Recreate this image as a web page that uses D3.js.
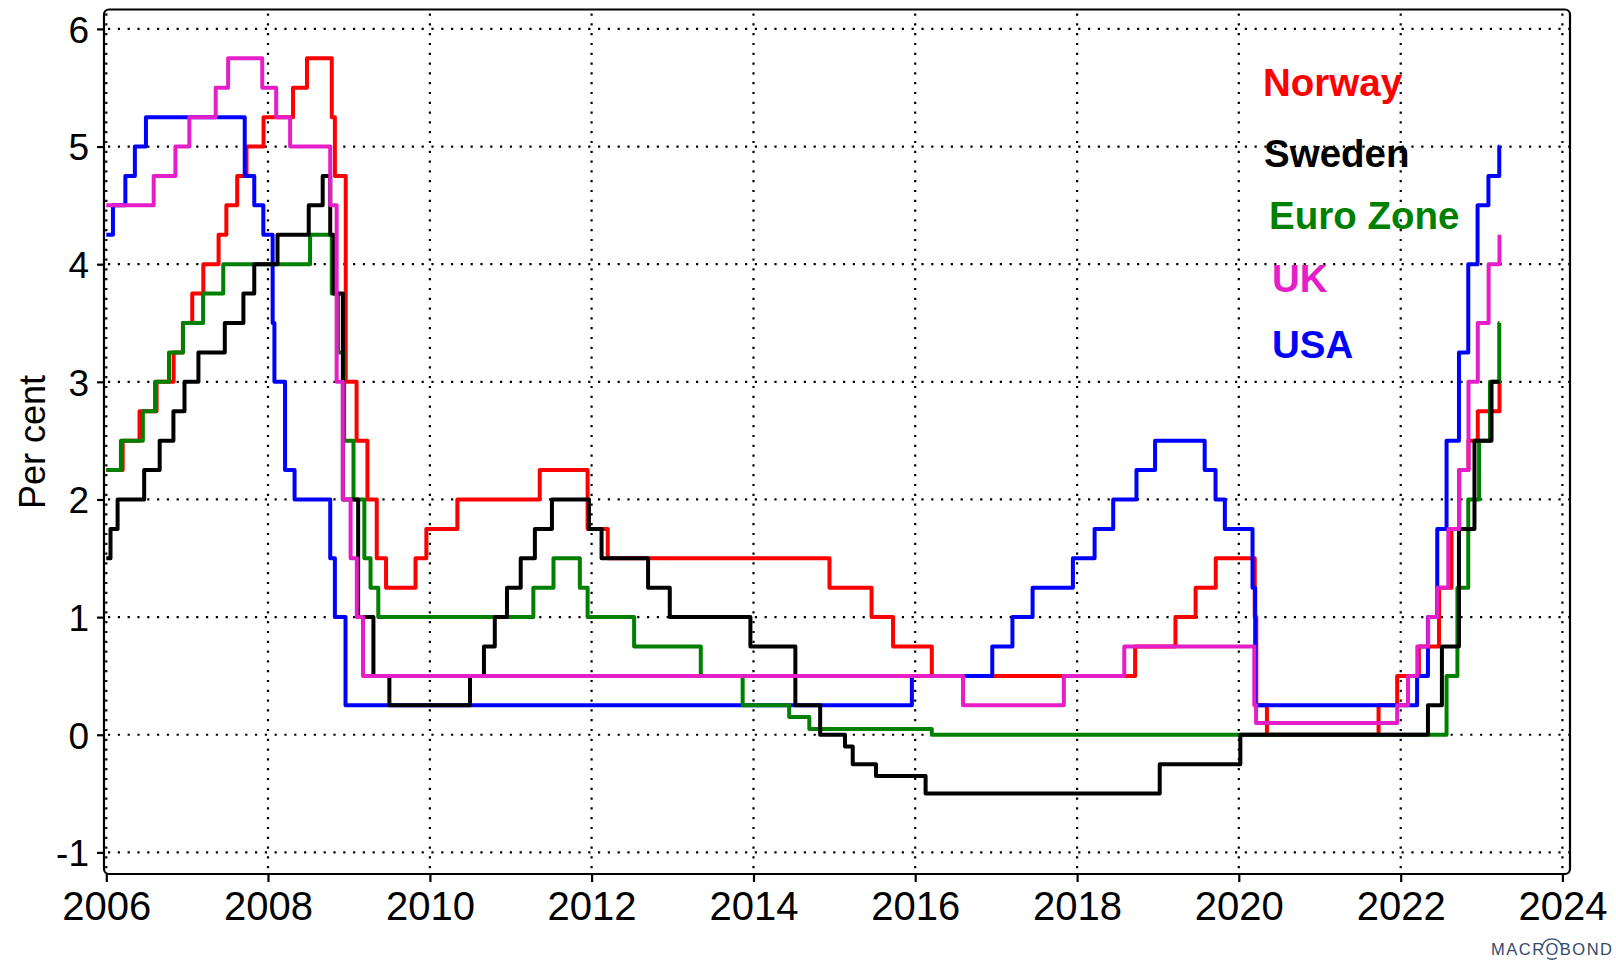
<!DOCTYPE html>
<html>
<head>
<meta charset="utf-8">
<script src="https://cdn.jsdelivr.net/npm/d3@7"></script>
<style>
  html, body { margin: 0; padding: 0; background: #fff; }
  svg { display: block; }
  text { font-family: "Liberation Sans", Arial, sans-serif; }
</style>
</head>
<body>
<svg id="chart" width="1616" height="961"></svg>
<script>
// policy rates, change points [date, per cent]
const norway = [
  ["2006-01-01", 2.25], ["2006-03-16", 2.5], ["2006-05-31", 2.75], ["2006-08-16", 3.0], ["2006-11-01", 3.25],
  ["2006-12-13", 3.5], ["2007-01-24", 3.75], ["2007-03-15", 4.0], ["2007-05-23", 4.25], ["2007-06-27", 4.5],
  ["2007-08-15", 4.75], ["2007-09-26", 5.0], ["2007-12-12", 5.25], ["2008-04-23", 5.5], ["2008-06-25", 5.75],
  ["2008-10-15", 5.25], ["2008-10-29", 4.75], ["2008-12-17", 3.0], ["2009-02-04", 2.5], ["2009-03-25", 2.0],
  ["2009-05-06", 1.5], ["2009-06-17", 1.25], ["2009-10-28", 1.5], ["2009-12-16", 1.75], ["2010-05-05", 2.0],
  ["2011-05-12", 2.25], ["2011-12-14", 1.75], ["2012-03-14", 1.5], ["2014-12-10", 1.25], ["2015-06-18", 1.0],
  ["2015-09-23", 0.75], ["2016-03-16", 0.5], ["2018-09-20", 0.75], ["2019-03-21", 1.0], ["2019-06-20", 1.25],
  ["2019-09-19", 1.5], ["2020-03-13", 1.0], ["2020-03-20", 0.25], ["2020-05-07", 0.0], ["2021-09-23", 0.25],
  ["2021-12-16", 0.5], ["2022-03-24", 0.75], ["2022-06-23", 1.25], ["2022-08-18", 1.75], ["2022-09-22", 2.25],
  ["2022-11-03", 2.5], ["2022-12-15", 2.75], ["2023-03-23", 3.0]
];
const sweden = [
  ["2006-01-01", 1.5], ["2006-01-20", 1.75], ["2006-02-21", 2.0], ["2006-06-21", 2.25], ["2006-08-30", 2.5],
  ["2006-10-31", 2.75], ["2006-12-20", 3.0], ["2007-02-21", 3.25], ["2007-06-20", 3.5], ["2007-09-12", 3.75],
  ["2007-10-31", 4.0], ["2008-02-13", 4.25], ["2008-07-03", 4.5], ["2008-09-04", 4.75], ["2008-10-08", 4.25],
  ["2008-10-23", 3.75], ["2008-12-04", 2.0], ["2009-02-11", 1.0], ["2009-04-21", 0.5], ["2009-07-02", 0.25],
  ["2010-07-01", 0.5], ["2010-09-02", 0.75], ["2010-10-21", 1.0], ["2010-12-15", 1.25], ["2011-02-15", 1.5],
  ["2011-04-20", 1.75], ["2011-07-06", 2.0], ["2011-12-20", 1.75], ["2012-02-15", 1.5], ["2012-09-12", 1.25],
  ["2012-12-19", 1.0], ["2013-12-18", 0.75], ["2014-07-09", 0.25], ["2014-10-29", 0.0], ["2015-02-18", -0.1],
  ["2015-03-25", -0.25], ["2015-07-08", -0.35], ["2016-02-17", -0.5], ["2019-01-09", -0.25], ["2020-01-08", 0.0],
  ["2022-05-04", 0.25], ["2022-07-06", 0.75], ["2022-09-21", 1.75], ["2022-11-30", 2.5], ["2023-02-15", 3.0]
];
const euroZone = [
  ["2006-01-01", 2.25], ["2006-03-08", 2.5], ["2006-06-15", 2.75], ["2006-08-09", 3.0], ["2006-10-11", 3.25],
  ["2006-12-13", 3.5], ["2007-03-14", 3.75], ["2007-06-13", 4.0], ["2008-07-09", 4.25], ["2008-10-15", 3.75],
  ["2008-11-12", 3.25], ["2008-12-10", 2.5], ["2009-01-21", 2.0], ["2009-03-11", 1.5], ["2009-04-08", 1.25],
  ["2009-05-13", 1.0], ["2011-04-13", 1.25], ["2011-07-13", 1.5], ["2011-11-09", 1.25], ["2011-12-14", 1.0],
  ["2012-07-11", 0.75], ["2013-05-08", 0.5], ["2013-11-13", 0.25], ["2014-06-11", 0.15], ["2014-09-10", 0.05],
  ["2016-03-16", 0.0], ["2022-07-27", 0.5], ["2022-09-14", 1.25], ["2022-11-02", 2.0], ["2022-12-21", 2.5],
  ["2023-02-08", 3.0], ["2023-03-22", 3.5]
];
const uk = [
  ["2006-01-01", 4.5], ["2006-08-03", 4.75], ["2006-11-09", 5.0], ["2007-01-11", 5.25], ["2007-05-10", 5.5],
  ["2007-07-05", 5.75], ["2007-12-06", 5.5], ["2008-02-07", 5.25], ["2008-04-10", 5.0], ["2008-10-08", 4.5],
  ["2008-11-06", 3.0], ["2008-12-04", 2.0], ["2009-01-08", 1.5], ["2009-02-05", 1.0], ["2009-03-05", 0.5],
  ["2016-08-04", 0.25], ["2017-11-02", 0.5], ["2018-08-02", 0.75], ["2020-03-11", 0.25], ["2020-03-19", 0.1],
  ["2021-12-16", 0.25], ["2022-02-03", 0.5], ["2022-03-17", 0.75], ["2022-05-05", 1.0], ["2022-06-16", 1.25],
  ["2022-08-04", 1.75], ["2022-09-22", 2.25], ["2022-11-03", 3.0], ["2022-12-15", 3.5], ["2023-02-02", 4.0],
  ["2023-03-23", 4.25]
];
const usa = [
  ["2006-01-01", 4.25], ["2006-01-31", 4.5], ["2006-03-28", 4.75], ["2006-05-10", 5.0], ["2006-06-29", 5.25],
  ["2007-09-18", 4.75], ["2007-10-31", 4.5], ["2007-12-11", 4.25], ["2008-01-22", 3.5], ["2008-01-30", 3.0],
  ["2008-03-18", 2.25], ["2008-04-30", 2.0], ["2008-10-08", 1.5], ["2008-10-29", 1.0], ["2008-12-16", 0.25],
  ["2015-12-17", 0.5], ["2016-12-14", 0.75], ["2017-03-15", 1.0], ["2017-06-14", 1.25], ["2017-12-13", 1.5],
  ["2018-03-21", 1.75], ["2018-06-13", 2.0], ["2018-09-26", 2.25], ["2018-12-19", 2.5], ["2019-07-31", 2.25],
  ["2019-09-18", 2.0], ["2019-10-30", 1.75], ["2020-03-03", 1.25], ["2020-03-15", 0.25], ["2022-03-16", 0.5],
  ["2022-05-04", 1.0], ["2022-06-15", 1.75], ["2022-07-27", 2.5], ["2022-09-21", 3.25], ["2022-11-02", 4.0],
  ["2022-12-14", 4.5], ["2023-02-01", 4.75], ["2023-03-22", 5.0]
];
const lastDate = "2023-03-23";

const yTicks = [-1, 0, 1, 2, 3, 4, 5, 6];
const xTickYears = [2006, 2008, 2010, 2012, 2014, 2016, 2018, 2020, 2022, 2024];

// draw order bottom -> top, legend order separately
const series = [
  { name: "Norway", data: norway, color: "#ff0000" },
  { name: "USA", data: usa, color: "#0000ff" },
  { name: "Euro Zone", data: euroZone, color: "#008000" },
  { name: "Sweden", data: sweden, color: "#000000" },
  { name: "UK", data: uk, color: "#e61ec8" }
];
const legend = [
  { name: "Norway", color: "#ff0000", x: 1263, y: 96 },
  { name: "Sweden", color: "#000000", x: 1264, y: 167 },
  { name: "Euro Zone", color: "#008000", x: 1269, y: 229 },
  { name: "UK", color: "#e61ec8", x: 1272, y: 292 },
  { name: "USA", color: "#0000ff", x: 1272, y: 358 }
];

const parse = d3.timeParse("%Y-%m-%d");
const frame = { left: 104, right: 1570, top: 9.5, bottom: 874 };

const x = d3.scaleTime()
  .domain([new Date(2006, 0, 1), new Date(2024, 0, 1)])
  .range([106.3, 1562.4]);
const y = d3.scaleLinear().domain([-1, 6]).range([852.4, 28.9]);

const svg = d3.select("#chart");

// grid
const grid = svg.append("g")
  .attr("stroke", "#000")
  .attr("stroke-width", 2.2)
  .attr("stroke-dasharray", "2.2,7.6");

grid.selectAll(".hgrid")
  .data(yTicks)
  .enter()
  .append("line")
  .attr("x1", frame.left + 4)
  .attr("x2", frame.right)
  .attr("y1", d => y(d))
  .attr("y2", d => y(d));

grid.selectAll(".vgrid")
  .data(xTickYears)
  .enter()
  .append("line")
  .attr("x1", d => x(new Date(d, 0, 1)))
  .attr("x2", d => x(new Date(d, 0, 1)))
  .attr("y1", frame.top + 4)
  .attr("y2", frame.bottom);

// lines
const line = d3.line()
  .x(d => x(d.date))
  .y(d => y(d.value))
  .curve(d3.curveStepAfter);

series.forEach(s => {
  const pts = s.data.map(d => ({ date: parse(d[0]), value: d[1] }));
  pts.push({ date: parse(lastDate), value: pts[pts.length - 1].value });
  svg.append("path")
    .datum(pts)
    .attr("fill", "none")
    .attr("stroke", s.color)
    .attr("stroke-width", 4)
    .attr("stroke-linejoin", "round")
    .attr("d", line);
});

// frame
svg.append("rect")
  .attr("x", frame.left)
  .attr("y", frame.top)
  .attr("width", frame.right - frame.left)
  .attr("height", frame.bottom - frame.top)
  .attr("rx", 5)
  .attr("fill", "none")
  .attr("stroke", "#000")
  .attr("stroke-width", 2.2);

// axes
const yAxis = d3.axisLeft(y).tickValues(yTicks).tickSize(7).tickPadding(8)
  .tickFormat(d => String(d));
const gy = svg.append("g")
  .attr("transform", `translate(${frame.left},0)`)
  .call(yAxis);
gy.select(".domain").remove();
gy.selectAll(".tick line").attr("stroke-width", 2.2);
gy.selectAll(".tick text")
  .attr("font-size", 37)
  .attr("font-family", "Liberation Sans, Arial, sans-serif")
  .attr("fill", "#000")
  .attr("dy", "0.36em");

const xAxis = d3.axisBottom(x)
  .tickValues(xTickYears.map(d => new Date(d, 0, 1)))
  .tickSize(8).tickPadding(10)
  .tickFormat(d3.timeFormat("%Y"));
const gx = svg.append("g")
  .attr("transform", `translate(0,${frame.bottom})`)
  .call(xAxis);
gx.select(".domain").remove();
gx.selectAll(".tick line").attr("stroke-width", 2.2);
gx.selectAll(".tick text")
  .attr("font-size", 40)
  .attr("font-family", "Liberation Sans, Arial, sans-serif")
  .attr("fill", "#000")
  .attr("dy", "0.71em");

svg.append("text")
  .attr("transform", "translate(45,442) rotate(-90)")
  .attr("text-anchor", "middle")
  .attr("font-size", 36)
  .text("Per cent");

// legend labels
svg.selectAll(".legend")
  .data(legend)
  .enter()
  .append("text")
  .attr("x", d => d.x)
  .attr("y", d => d.y)
  .attr("font-size", 38.5)
  .attr("font-weight", "bold")
  .attr("fill", d => d.color)
  .text(d => d.name);

// source mark
const mb = svg.append("text")
  .attr("x", 1491)
  .attr("y", 955)
  .attr("font-size", 16.5)
  .attr("textLength", 121)
  .attr("lengthAdjust", "spacing")
  .attr("fill", "#34496b")
  .text("MACROBOND");
const o0 = mb.node().getStartPositionOfChar(4).x;
const o1 = mb.node().getEndPositionOfChar(4).x;
const oc = (o0 + o1) / 2;
const arc = d3.arc().innerRadius(9.5).outerRadius(10.8);
svg.append("path")
  .attr("transform", `translate(${oc},949)`)
  .attr("fill", "#34496b")
  .attr("d", arc({ startAngle: -Math.PI / 2.6, endAngle: Math.PI / 2.6 }));
svg.append("path")
  .attr("transform", `translate(${oc},949)`)
  .attr("fill", "#34496b")
  .attr("d", arc({ startAngle: Math.PI - 0.5, endAngle: Math.PI + 0.5 }));
</script>
</body>
</html>
